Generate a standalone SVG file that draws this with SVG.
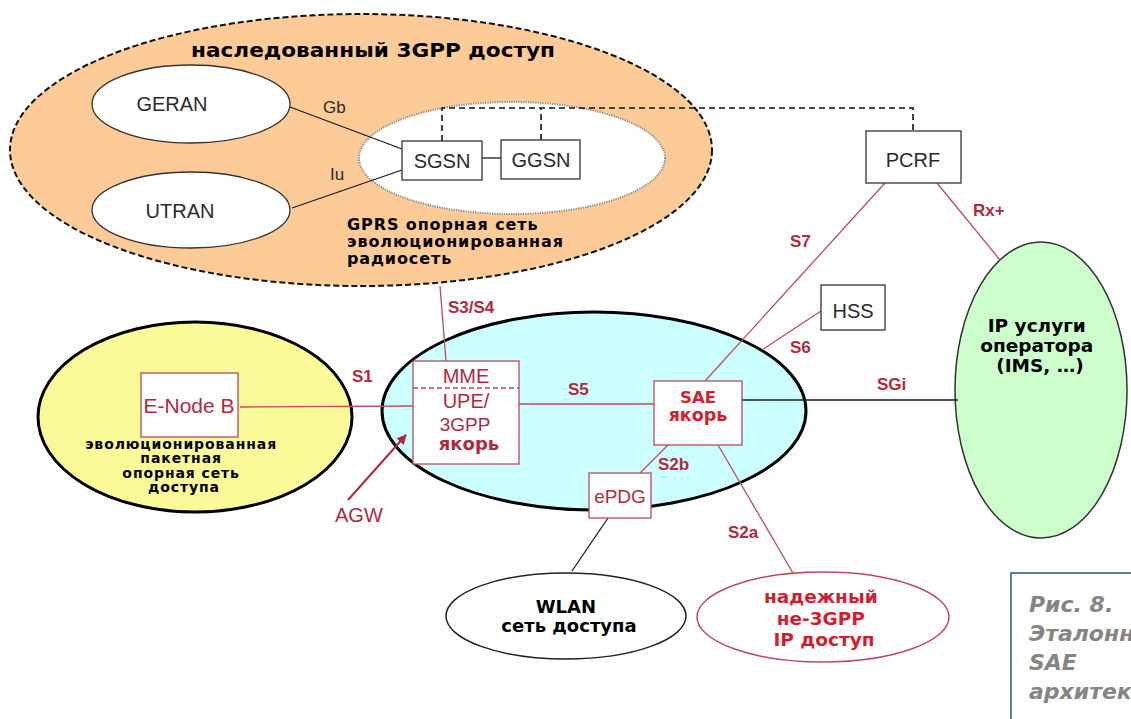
<svg xmlns="http://www.w3.org/2000/svg" width="1131" height="719" viewBox="0 0 1131 719">
  <style>
    .sans { font-family: "Liberation Sans", Arial, sans-serif; }
    .bold { font-family: "DejaVu Sans", Verdana, sans-serif; font-weight: bold; }
    .grey { fill: #2a2a2a; font-size: 20px; }
    .lbl { fill: #b3283f; font-size: 17px; font-weight: bold; font-family: "Liberation Sans", Arial, sans-serif; }
    .dark-red { fill: #b3283f; }
    .bright-red { fill: #d11f30; }
    .box { fill: #ffffff; stroke: #333333; stroke-width: 1.3; }
    .rbox { fill: #ffffff; stroke: #b84a5c; stroke-width: 1.3; }
    .rline { stroke: #c24a5e; stroke-width: 1.3; fill: none; }
    .kline { stroke: #1a1a1a; stroke-width: 1.3; fill: none; }
    .mid { text-anchor: middle; }
  </style>
  <defs>
    <marker id="arrow-red" viewBox="0 0 10 10" refX="9" refY="5" markerWidth="10" markerHeight="10" markerUnits="userSpaceOnUse" orient="auto">
      <path d="M0,0 L10,5 L0,10 z" fill="#b3283f"/>
    </marker>
  </defs>

  <rect width="1131" height="719" fill="#ffffff"/>

  <!-- legacy 3GPP access domain -->
  <g id="legacy-access">
    <ellipse cx="361" cy="150" rx="351" ry="136" fill="#fdcb97" stroke="#111" stroke-width="2" stroke-dasharray="6,3"/>
    <text class="bold" x="191" y="57" font-size="19" fill="#000" textLength="364" lengthAdjust="spacingAndGlyphs">наследованный 3GPP доступ</text>
  </g>

  <g id="geran">
    <ellipse cx="191" cy="104" rx="99" ry="39" fill="#fff" stroke="#333" stroke-width="1.3"/>
    <text class="sans grey mid" x="172" y="111">GERAN</text>
  </g>

  <g id="utran">
    <ellipse cx="191" cy="210" rx="99" ry="38" fill="#fff" stroke="#333" stroke-width="1.3"/>
    <text class="sans grey mid" x="180" y="218">UTRAN</text>
  </g>

  <g id="gprs-core">
    <ellipse cx="512" cy="158" rx="153" ry="56" fill="#fff" stroke="#8a8a8a" stroke-width="2" stroke-dasharray="1.2,1.2"/>
    <text class="bold" font-size="16" fill="#000" letter-spacing="0.9">
      <tspan x="347" y="230">GPRS опорная сеть</tspan>
      <tspan x="347" y="247">эволюционированная</tspan>
      <tspan x="347" y="264">радиосеть</tspan>
    </text>
  </g>

  <!-- evolved packet core (cyan) -->
  <g id="epc">
    <ellipse cx="594" cy="411" rx="212" ry="99" fill="#ccffff" stroke="#000" stroke-width="3"/>
  </g>

  <!-- evolved access network (yellow) -->
  <g id="eran">
    <ellipse cx="195" cy="417" rx="157" ry="95" fill="#fbfa98" stroke="#000" stroke-width="3"/>
    <text class="bold mid" font-size="14" fill="#000" letter-spacing="0.9">
      <tspan x="184" y="449">эволюционированная</tspan>
      <tspan x="184" y="463">пакетная</tspan>
      <tspan x="184" y="478">опорная сеть</tspan>
      <tspan x="184" y="492">доступа</tspan>
    </text>
  </g>

  <g id="ip-services">
    <ellipse cx="1041" cy="390" rx="86" ry="148" fill="#ccffcc" stroke="#333" stroke-width="1.5"/>
    <text class="bold mid" font-size="18.5" fill="#000">
      <tspan x="1040" y="332">IP услуги</tspan>
      <tspan x="1040" y="352">оператора</tspan>
      <tspan x="1040" y="372">(IMS, …)</tspan>
    </text>
  </g>

  <g id="wlan">
    <ellipse cx="566" cy="616" rx="120" ry="43" fill="#fff" stroke="#222" stroke-width="1.5"/>
    <text class="bold mid" font-size="18" fill="#000">
      <tspan x="569" y="613">WLAN</tspan>
      <tspan x="569" y="632">сеть доступа</tspan>
    </text>
  </g>

  <g id="trusted-non3gpp">
    <ellipse cx="823" cy="617" rx="126" ry="45" fill="#fff" stroke="#c04a5c" stroke-width="1.5"/>
    <text class="bold mid bright-red" font-size="18.5">
      <tspan x="824" y="603">надежный</tspan>
      <tspan x="824" y="625">не-3GPP</tspan>
      <tspan x="824" y="646">IP доступ</tspan>
    </text>
  </g>

  <!-- interfaces -->
  <g id="connectors">
    <path class="kline" d="M290,107 L402,149"/>
    <path class="kline" d="M292,208 L402,170"/>
    <path class="kline" d="M482,158 L501,158"/>
    <path d="M442,141 V108 H913 V131 M541,140 V108" fill="none" stroke="#111" stroke-width="1.6" stroke-dasharray="6,4"/>
    <path class="rline" d="M440,286 L446,361"/>
    <path class="rline" d="M240,407 L413,406"/>
    <path class="rline" d="M519,404 L654,404"/>
    <path class="rline" d="M885,183 L705,381"/>
    <path class="rline" d="M821,311 L762,350"/>
    <path class="rline" d="M937,183 L1000,260"/>
    <path class="kline" d="M742,400 L958,400"/>
    <path class="rline" d="M668,445 L640,473"/>
    <path class="rline" d="M718,445 L793,573"/>
    <path class="kline" d="M608,518 L572,571"/>
    <path d="M348,500 L406,435" fill="none" stroke="#b3283f" stroke-width="2" marker-end="url(#arrow-red)"/>

    <text class="sans" x="323" y="113" font-size="17" fill="#2a2a2a">Gb</text>
    <text class="sans" x="330" y="180" font-size="17" fill="#2a2a2a">Iu</text>
    <text class="lbl" x="448" y="313">S3/S4</text>
    <text class="lbl" x="352" y="382">S1</text>
    <text class="lbl" x="568" y="395">S5</text>
    <text class="lbl" x="790" y="247">S7</text>
    <text class="lbl" x="790" y="353">S6</text>
    <text class="lbl" x="973" y="216">Rx+</text>
    <text class="lbl" x="877" y="390">SGi</text>
    <text class="lbl" x="658" y="470">S2b</text>
    <text class="lbl" x="728" y="538">S2a</text>
    <text class="sans dark-red" x="335" y="522" font-size="20">AGW</text>
  </g>

  <g id="sgsn">
    <rect class="box" x="402" y="141" width="80" height="39"/>
    <text class="sans grey mid" x="442" y="168">SGSN</text>
  </g>

  <g id="ggsn">
    <rect class="box" x="501" y="140" width="79" height="39"/>
    <text class="sans grey mid" x="541" y="167">GGSN</text>
  </g>

  <g id="pcrf">
    <rect class="box" x="866" y="131" width="95" height="52"/>
    <text class="sans grey mid" x="913" y="167">PCRF</text>
  </g>

  <g id="hss">
    <rect class="box" x="821" y="285" width="64" height="45"/>
    <text class="sans grey mid" x="853" y="318">HSS</text>
  </g>

  <g id="enodeb">
    <rect class="rbox" x="141" y="373" width="97" height="64"/>
    <text class="sans dark-red mid" x="189" y="413" font-size="21">E-Node B</text>
  </g>

  <g id="mme-upe">
    <rect class="rbox" x="413" y="361" width="106" height="103"/>
    <path d="M413,388 H519" stroke="#b84a5c" stroke-width="1.3" stroke-dasharray="5,3"/>
    <text class="sans dark-red mid" x="466" y="383" font-size="20">MME</text>
    <text class="sans dark-red mid" x="466" y="408" font-size="20">UPE/</text>
    <text class="sans dark-red mid" x="465" y="431" font-size="19">3GPP</text>
    <text class="bold dark-red mid" x="469" y="450" font-size="18">якорь</text>
  </g>

  <g id="sae-anchor">
    <rect class="rbox" x="654" y="381" width="88" height="64"/>
    <text class="bold bright-red mid" x="698" y="403" font-size="16.5">SAE</text>
    <text class="bold bright-red mid" x="698" y="421" font-size="17.5">якорь</text>
  </g>

  <g id="epdg">
    <rect class="rbox" x="589" y="473" width="62" height="45"/>
    <text class="sans dark-red mid" x="620" y="503" font-size="19">ePDG</text>
  </g>

  <!-- figure caption -->
  <g id="caption">
    <path d="M1011,719 V573 H1131" fill="none" stroke="#2e4f86" stroke-width="1.5"/>
    <text class="bold" font-style="italic" font-size="22" fill="#858585">
      <tspan x="1029" y="612">Рис. 8.</tspan>
      <tspan x="1029" y="641">Эталонная</tspan>
      <tspan x="1029" y="670">SAE</tspan>
      <tspan x="1029" y="699">архитектура</tspan>
    </text>
  </g>
</svg>
